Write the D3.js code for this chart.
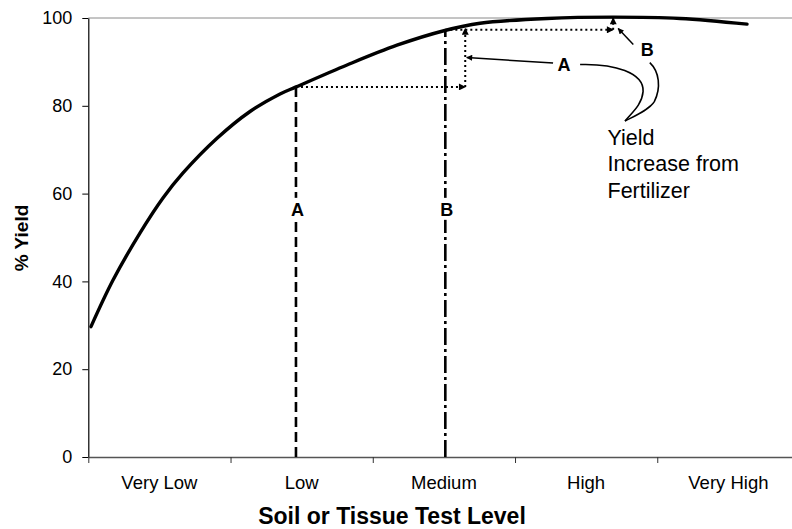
<!DOCTYPE html>
<html>
<head>
<meta charset="utf-8">
<script src="https://cdn.jsdelivr.net/npm/d3@7/dist/d3.min.js"></script>
<style>
  html, body { margin: 0; padding: 0; background: #fff; }
  svg { display: block; }
  text { font-family: Arial, "Liberation Sans", Helvetica, sans-serif; fill: #000; }
</style>
</head>
<body>
<svg id="chart" width="792" height="529"></svg>
<script>
// ---------- data ----------
const categories = ["Very Low", "Low", "Medium", "High", "Very High"];
const yTicks = [0, 20, 40, 60, 80, 100];
// response curve: test level (in category units, 0..5) vs % yield
const curveLevel = [0.019, 0.174, 0.363, 0.525, 0.666, 0.905, 1.137, 1.348, 1.461, 1.819, 2.17, 2.5, 2.754, 3.225, 3.69, 4.16, 4.631];
const curveYield = [29.7, 40.3, 51.0, 59.0, 64.7, 72.6, 78.7, 82.7, 84.3, 89.3, 93.8, 97.1, 98.8, 99.9, 100.2, 99.9, 98.6];
// soil test levels A and B
const testNames = ["A", "B"];
const testLevels = [1.46, 2.51];
const testYields = [84.3, 97.1];
const testLabelYield = 56.3;
// yield increase arrows (dotted)
const increaseA = [[1.46, 84.3], [2.65, 84.3], [2.65, 97.6]];
const increaseB = [[2.51, 97.3], [3.69, 97.3], [3.69, 100]];
const noteLines = ["Yield", "Increase from", "Fertilizer"];
const xTitle = "Soil or Tissue Test Level";
const yTitle = "% Yield";

// ---------- layout ----------
(function () {
const svg = d3.select("#chart");
const mLeft = 88.3, mRight = 799.5, mTop = 18, mBottom = 457;
const x = d3.scaleLinear().domain([0, categories.length]).range([mLeft, mRight]);
const xb = d3.scaleBand().domain(categories).range([mLeft, mRight]);
const y = d3.scaleLinear().domain([0, 100]).range([mBottom, mTop]);

const defs = svg.append("defs");
function marker(id, w, h) {
  defs.append("marker").attr("id", id)
    .attr("viewBox", "0 0 10 10").attr("refX", 9).attr("refY", 5)
    .attr("markerWidth", w).attr("markerHeight", h)
    .attr("markerUnits", "userSpaceOnUse")
    .attr("orient", "auto")
    .append("path").attr("d", "M0,0 L10,5 L0,10 Z").attr("fill", "#000");
}
marker("tri", 8, 7);
marker("tri2", 8, 6);

// top border line at 100
svg.append("line")
  .attr("x1", mLeft).attr("x2", 792).attr("y1", y(100)).attr("y2", y(100))
  .attr("stroke", "#8a8a8a").attr("stroke-width", 1);

// y axis
const yAxis = svg.append("g").attr("transform", `translate(${mLeft},0)`)
  .call(d3.axisLeft(y).tickValues(yTicks).tickSize(6).tickSizeOuter(0).tickPadding(10));
yAxis.select(".domain").attr("stroke", "#000").attr("stroke-width", 1.2);
yAxis.selectAll(".tick line").attr("stroke", "#000");
yAxis.selectAll("text").attr("font-size", 18).attr("font-family", "Arial, 'Liberation Sans', sans-serif");

// x axis (tick marks at category boundaries)
const xAxis = svg.append("g").attr("transform", `translate(0,${mBottom})`)
  .call(d3.axisBottom(x).tickValues(d3.range(0, categories.length + 1)).tickSize(6).tickSizeOuter(0).tickFormat(""));
xAxis.select(".domain").attr("stroke", "#555").attr("stroke-width", 1.6);
xAxis.selectAll(".tick line").attr("stroke", "#333");

const xLab = svg.append("g").attr("transform", `translate(0,${mBottom})`)
  .call(d3.axisBottom(xb).tickSize(0).tickPadding(19));
xLab.select(".domain").remove();
xLab.selectAll("text").attr("font-size", 18.5).attr("font-family", "Arial, 'Liberation Sans', sans-serif");

// axis titles
svg.append("text").attr("x", 392).attr("y", 524)
  .attr("text-anchor", "middle").attr("font-size", 23).attr("font-weight", "bold").text(xTitle);
svg.append("text").attr("transform", `translate(28,${238}) rotate(-90)`)
  .attr("text-anchor", "middle").attr("font-size", 19).attr("font-weight", "bold").text(yTitle);

// test level lines
const dashes = ["10,5", "17,4,3,4"];
testLevels.forEach((lv, i) => {
  svg.append("line")
    .attr("x1", x(lv)).attr("x2", x(lv)).attr("y1", y(0)).attr("y2", y(testYields[i]))
    .attr("stroke", "#000").attr("stroke-width", 2.6).attr("stroke-dasharray", dashes[i]);
  svg.append("rect")
    .attr("x", x(lv) - 9).attr("y", y(testLabelYield) - 12).attr("width", 18).attr("height", 22)
    .attr("fill", "#fff");
  svg.append("text").attr("x", x(lv) + 1.5).attr("y", y(testLabelYield))
    .attr("text-anchor", "middle").attr("dominant-baseline", "central")
    .attr("font-size", 18).attr("font-weight", "bold").text(testNames[i]);
});

// yield increase dotted arrows
function dotted(seg) {
  for (let k = 0; k < seg.length - 1; k++) {
    svg.append("line")
      .attr("x1", x(seg[k][0])).attr("y1", y(seg[k][1]))
      .attr("x2", x(seg[k + 1][0])).attr("y2", y(seg[k + 1][1]))
      .attr("stroke", "#000").attr("stroke-width", 2).attr("stroke-dasharray", "2,3")
      .attr("marker-end", "url(#tri)");
  }
}
dotted(increaseA);
dotted(increaseB);

// response curve
const line = d3.line().x(d => x(d[0])).y(d => y(d[1])).curve(d3.curveCatmullRom.alpha(0.5));
svg.append("path")
  .datum(curveLevel.map((v, i) => [v, curveYield[i]]))
  .attr("d", line).attr("fill", "none").attr("stroke", "#000")
  .attr("stroke-width", 3.4).attr("stroke-linejoin", "round").attr("stroke-linecap", "round");

// annotation labels & pointers
const aPos = [x(3.345), y(89.4)];   // label A
const bPos = [x(3.93), y(92.8)];    // label B
svg.append("text").attr("x", aPos[0]).attr("y", aPos[1]).attr("text-anchor", "middle")
  .attr("dominant-baseline", "central").attr("font-size", 18).attr("font-weight", "bold").text("A");
svg.append("text").attr("x", bPos[0]).attr("y", bPos[1]).attr("text-anchor", "middle")
  .attr("dominant-baseline", "central").attr("font-size", 18).attr("font-weight", "bold").text("B");

// pointer from A to the vertical increase arrow
svg.append("line")
  .attr("x1", aPos[0] - 11).attr("y1", aPos[1] - 1.5)
  .attr("x2", x(increaseA[1][0]) + 1.5).attr("y2", y(91.0))
  .attr("stroke", "#000").attr("stroke-width", 1.5).attr("marker-end", "url(#tri2)");
// pointer from B to the small arrow
svg.append("line")
  .attr("x1", bPos[0] - 14).attr("y1", bPos[1] - 5)
  .attr("x2", x(increaseB[1][0]) + 5).attr("y2", y(97.6))
  .attr("stroke", "#000").attr("stroke-width", 1.5).attr("marker-end", "url(#tri2)");

// brackets joining A and B to the note
const tip = [625, 121];
const a0 = aPos[0], a1 = aPos[1], b0 = bPos[0], b1 = bPos[1];
svg.append("path")
  .attr("d", `M${a0 + 16},${a1} C${a0 + 50},${a1 - 1} ${a0 + 80},${a1 + 8} ${a0 + 79},${a1 + 27} C${a0 + 78},${a1 + 40} ${a0 + 68},${a1 + 48} ${tip[0]},${tip[1]}`)
  .attr("fill", "none").attr("stroke", "#000").attr("stroke-width", 1.6);
svg.append("path")
  .attr("d", `M${b0 + 2.5},${b1 + 13} C${b0 + 12},${b1 + 22} ${b0 + 14},${b1 + 38} ${b0 + 7},${b1 + 52} C${b0 + 2},${b1 + 60} ${b0 - 12},${b1 + 66} ${tip[0]},${tip[1]}`)
  .attr("fill", "none").attr("stroke", "#000").attr("stroke-width", 1.6);

// note text
const note = svg.append("text").attr("x", 607.5).attr("y", 145).attr("font-size", 21.5);
noteLines.forEach((t, i) => note.append("tspan").attr("x", 607.5).attr("dy", i === 0 ? 0 : 26.3).text(t));
})();
</script>
</body>
</html>
